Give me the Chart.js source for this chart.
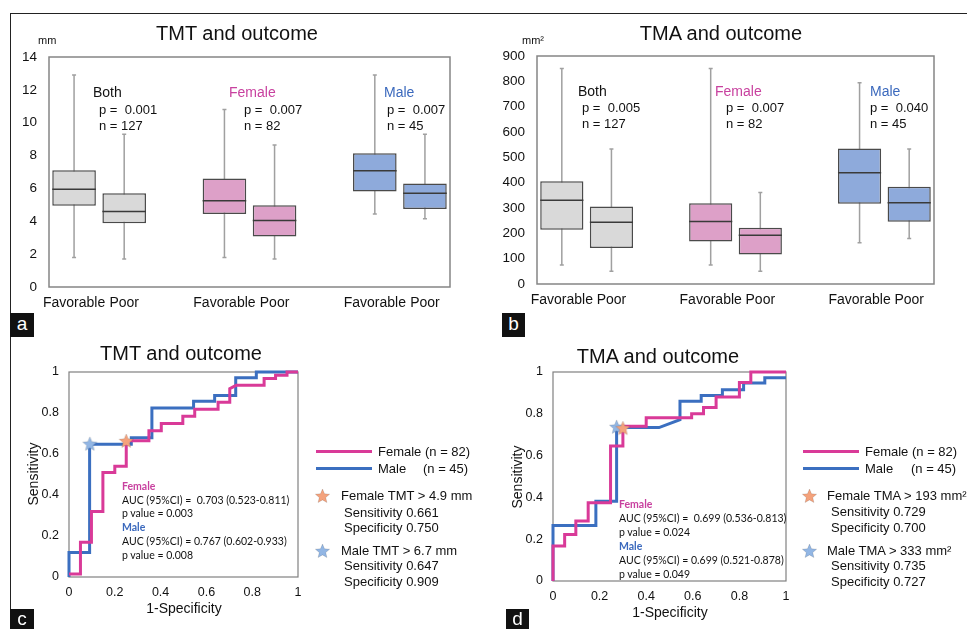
<!DOCTYPE html>
<html lang="en">
<head>
<meta charset="UTF-8">
<title>TMT / TMA and outcome</title>
<script src="https://cdn.jsdelivr.net/npm/chart.js"></script>
<style>
  body { margin:0; width:967px; height:629px; position:relative; overflow:hidden; background:#fff;
         font-family:"Liberation Sans", Arial, sans-serif; color:#111; }
  canvas { position:absolute; }
  .t { position:absolute; white-space:pre; line-height:1; }
  .c { transform:translateX(-50%); }
  .roc { font-family:Lato, "Liberation Sans", sans-serif; font-size:10.5px; }
  .tag { position:absolute; background:#111; color:#fff; font-size:19px; text-align:center; line-height:22px; }
  .pk { color:#c8419f; }
  .bl { color:#3b69bd; }
</style>
</head>
<body>

<!-- frame lines of the figure -->
<div style="position:absolute;left:10px;top:13px;width:957px;height:1px;background:#222"></div>
<div style="position:absolute;left:10px;top:13px;width:1px;height:616px;background:#222"></div>

<canvas id="cA" width="490" height="330" style="left:0;top:0"></canvas>
<canvas id="cB" width="477" height="330" style="left:490px;top:0"></canvas>
<canvas id="cC" width="490" height="299" style="left:0;top:330px"></canvas>
<canvas id="cD" width="477" height="299" style="left:490px;top:330px"></canvas>

<!-- panel a -->
<div class="t c" style="left:237px;top:23px;font-size:20px">TMT and outcome</div>
<div class="t" style="left:38px;top:35px;font-size:11px">mm</div>
<div class="t" style="left:93px;top:85px;font-size:14px">Both</div>
<div class="t" style="left:99px;top:103px;font-size:13px">p =  0.001</div>
<div class="t" style="left:99px;top:119px;font-size:13px">n = 127</div>
<div class="t pk" style="left:229px;top:85px;font-size:14px">Female</div>
<div class="t" style="left:244px;top:103px;font-size:13px">p =  0.007</div>
<div class="t" style="left:244px;top:119px;font-size:13px">n = 82</div>
<div class="t bl" style="left:384px;top:85px;font-size:14px">Male</div>
<div class="t" style="left:387px;top:103px;font-size:13px">p =  0.007</div>
<div class="t" style="left:387px;top:119px;font-size:13px">n = 45</div>
<div class="tag" style="left:10px;top:313px;width:24px;height:24px">a</div>

<!-- panel b -->
<div class="t c" style="left:721px;top:23px;font-size:20px">TMA and outcome</div>
<div class="t" style="left:522px;top:35px;font-size:11px">mm²</div>
<div class="t" style="left:578px;top:84px;font-size:14px">Both</div>
<div class="t" style="left:582px;top:101px;font-size:13px">p =  0.005</div>
<div class="t" style="left:582px;top:117px;font-size:13px">n = 127</div>
<div class="t pk" style="left:715px;top:84px;font-size:14px">Female</div>
<div class="t" style="left:726px;top:101px;font-size:13px">p =  0.007</div>
<div class="t" style="left:726px;top:117px;font-size:13px">n = 82</div>
<div class="t bl" style="left:870px;top:84px;font-size:14px">Male</div>
<div class="t" style="left:870px;top:101px;font-size:13px">p =  0.040</div>
<div class="t" style="left:870px;top:117px;font-size:13px">n = 45</div>
<div class="tag" style="left:502px;top:313px;width:23px;height:24px">b</div>

<!-- panel c -->
<div class="t c" style="left:181px;top:343px;font-size:20px">TMT and outcome</div>
<div class="t" style="left:33px;top:474px;font-size:14px;transform:translate(-50%,-50%) rotate(-90deg)">Sensitivity</div>
<div class="t c" style="left:184px;top:601px;font-size:14px">1-Specificity</div>
<div class="t roc pk" style="left:122px;top:481px;font-weight:bold">Female</div>
<div class="t roc" style="left:122px;top:495px">AUC (95%CI) =  0.703 (0.523-0.811)</div>
<div class="t roc" style="left:122px;top:508px">p value = 0.003</div>
<div class="t roc bl" style="left:122px;top:522px;font-weight:bold">Male</div>
<div class="t roc" style="left:122px;top:536px">AUC (95%CI) = 0.767 (0.602-0.933)</div>
<div class="t roc" style="left:122px;top:550px">p value = 0.008</div>
<div style="position:absolute;left:316px;top:450px;width:56px;height:3px;background:#d93a98"></div>
<div style="position:absolute;left:316px;top:467px;width:56px;height:3px;background:#3b6fc0"></div>
<div class="t" style="left:378px;top:445px;font-size:13px">Female (n = 82)</div>
<div class="t" style="left:378px;top:462px;font-size:13px">Male</div>
<div class="t" style="left:423px;top:462px;font-size:13px">(n = 45)</div>
<div class="t" style="left:341px;top:489px;font-size:13px">Female TMT &gt; 4.9 mm</div>
<div class="t" style="left:344px;top:506px;font-size:13px">Sensitivity 0.661</div>
<div class="t" style="left:344px;top:521px;font-size:13px">Specificity 0.750</div>
<div class="t" style="left:341px;top:544px;font-size:13px">Male TMT &gt; 6.7 mm</div>
<div class="t" style="left:344px;top:559px;font-size:13px">Sensitivity 0.647</div>
<div class="t" style="left:344px;top:575px;font-size:13px">Specificity 0.909</div>
<div class="tag" style="left:10px;top:609px;width:24px;height:20px;line-height:20px">c</div>

<!-- panel d -->
<div class="t c" style="left:658px;top:346px;font-size:20px">TMA and outcome</div>
<div class="t" style="left:517px;top:477px;font-size:14px;transform:translate(-50%,-50%) rotate(-90deg)">Sensitivity</div>
<div class="t c" style="left:670px;top:605px;font-size:14px">1-Specificity</div>
<div class="t roc pk" style="left:619px;top:499px;font-weight:bold">Female</div>
<div class="t roc" style="left:619px;top:513px">AUC (95%CI) =  0.699 (0.536-0.813)</div>
<div class="t roc" style="left:619px;top:527px">p value = 0.024</div>
<div class="t roc bl" style="left:619px;top:541px;font-weight:bold">Male</div>
<div class="t roc" style="left:619px;top:555px">AUC (95%CI) = 0.699 (0.521-0.878)</div>
<div class="t roc" style="left:619px;top:569px">p value = 0.049</div>
<div style="position:absolute;left:803px;top:450px;width:56px;height:3px;background:#d93a98"></div>
<div style="position:absolute;left:803px;top:467px;width:56px;height:3px;background:#3b6fc0"></div>
<div class="t" style="left:865px;top:445px;font-size:13px">Female (n = 82)</div>
<div class="t" style="left:865px;top:462px;font-size:13px">Male</div>
<div class="t" style="left:911px;top:462px;font-size:13px">(n = 45)</div>
<div class="t" style="left:827px;top:489px;font-size:13px">Female TMA &gt; 193 mm²</div>
<div class="t" style="left:831px;top:505px;font-size:13px">Sensitivity 0.729</div>
<div class="t" style="left:831px;top:521px;font-size:13px">Specificity 0.700</div>
<div class="t" style="left:827px;top:544px;font-size:13px">Male TMA &gt; 333 mm²</div>
<div class="t" style="left:831px;top:559px;font-size:13px">Sensitivity 0.735</div>
<div class="t" style="left:831px;top:575px;font-size:13px">Specificity 0.727</div>
<div class="tag" style="left:506px;top:609px;width:23px;height:20px;line-height:20px">d</div>

<script>
// ---- box plot data (a: TMT in mm, b: TMA in mm2) ----
// order: Both fav/poor, gap, Female fav/poor, gap, Male fav/poor
const groupLabels = ['Favorable', 'Poor', '', 'Favorable', 'Poor', '', 'Favorable', 'Poor'];

const tmtMin = [1.8, 1.7, null, 1.8, 1.7, null, 4.45, 4.15];
const tmtQ1  = [4.95, 3.88, null, 4.45, 3.08, null, 5.82, 4.75];
const tmtMed = [5.95, 4.6, null, 5.25, 4.05, null, 7.08, 5.7];
const tmtQ3  = [7.1, 5.7, null, 6.6, 4.97, null, 8.14, 6.3];
const tmtMax = [12.9, 9.3, null, 10.8, 8.65, null, 12.9, 9.3];

const tmaMin = [75, 50, null, 75, 50, null, 163, 180];
const tmaQ1  = [214, 142, null, 168, 116, null, 317, 246];
const tmaMed = [331, 244, null, 247, 192, null, 439, 321];
const tmaQ3  = [406, 306, null, 319, 222, null, 535, 384];
const tmaMax = [851, 533, null, 851, 361, null, 794, 533];

const boxFill = ['#d9d9d9', '#d9d9d9', null, '#dda0c8', '#dda0c8', null, '#8eaadb', '#8eaadb'];

// ---- ROC curves (x = 1-specificity, y = sensitivity) ----
const tmtFemaleFpr = [0, 0.05, 0.05, 0.098, 0.098, 0.148, 0.148, 0.2, 0.2, 0.25, 0.25, 0.349, 0.349, 0.403, 0.403, 0.497, 0.497, 0.549, 0.549, 0.651, 0.651, 0.702, 0.702, 0.73, 0.852, 0.852, 0.902, 0.902, 0.952, 0.952, 1];
const tmtFemaleTpr = [0.015, 0.015, 0.17, 0.17, 0.32, 0.32, 0.51, 0.51, 0.54, 0.54, 0.665, 0.665, 0.713, 0.713, 0.749, 0.749, 0.784, 0.784, 0.818, 0.818, 0.852, 0.852, 0.919, 0.935, 0.935, 0.968, 0.968, 0.984, 0.984, 1, 1];
const tmtMaleFpr = [0, 0, 0.09, 0.09, 0.272, 0.272, 0.362, 0.362, 0.544, 0.544, 0.636, 0.636, 0.728, 0.728, 0.818, 0.818, 1];
const tmtMaleTpr = [0, 0.12, 0.12, 0.647, 0.647, 0.679, 0.679, 0.825, 0.825, 0.857, 0.857, 0.885, 0.885, 0.972, 0.972, 1, 1];

const tmaFemaleFpr = [0, 0, 0.05, 0.05, 0.098, 0.098, 0.151, 0.151, 0.247, 0.247, 0.3, 0.3, 0.4, 0.4, 0.595, 0.595, 0.646, 0.646, 0.7, 0.7, 0.8, 0.8, 0.849, 0.849, 1];
const tmaFemaleTpr = [0, 0.167, 0.167, 0.222, 0.222, 0.287, 0.287, 0.375, 0.375, 0.646, 0.646, 0.74, 0.74, 0.781, 0.781, 0.8, 0.8, 0.83, 0.83, 0.88, 0.88, 0.95, 0.95, 1, 1];
const tmaMaleFpr = [0, 0, 0.184, 0.184, 0.273, 0.273, 0.455, 0.545, 0.545, 0.636, 0.636, 0.727, 0.727, 0.818, 0.818, 0.909, 0.909, 1];
const tmaMaleTpr = [0, 0.266, 0.266, 0.381, 0.381, 0.734, 0.734, 0.772, 0.86, 0.86, 0.888, 0.888, 0.915, 0.915, 0.947, 0.947, 0.973, 0.973];

// cut-off points [1-specificity, sensitivity]
const tmtFemaleCut = [0.25, 0.661];
const tmtMaleCut = [0.091, 0.647];
const tmaFemaleCut = [0.30, 0.729];
const tmaMaleCut = [0.273, 0.735];

const PINK = '#d93a98', BLUE = '#3b6fc0';
const STAR_ORANGE = '#f4a27c', STAR_BLUE = '#92b6e4';

Chart.defaults.font.family = '"Liberation Sans", Arial, sans-serif';
Chart.defaults.color = '#111';

function starImage(fill, r) {
  const c = document.createElement('canvas');
  const s = Math.ceil(r * 2 + 2);
  c.width = s; c.height = s;
  const g = c.getContext('2d');
  g.beginPath();
  for (let k = 0; k < 10; k++) {
    const rad = k % 2 ? r * 0.45 : r;
    const a = -Math.PI / 2 + k * Math.PI / 5;
    g.lineTo(s / 2 + rad * Math.cos(a), s / 2 + rad * Math.sin(a));
  }
  g.closePath();
  g.fillStyle = fill; g.fill();
  g.strokeStyle = 'rgba(0,0,0,0.15)'; g.lineWidth = 0.8; g.stroke();
  return c;
}

// border round the plot area
function frame(color, w) {
  return {
    id: 'frame',
    beforeDatasetsDraw(chart) {
      const a = chart.chartArea, ctx = chart.ctx;
      ctx.save();
      ctx.strokeStyle = color; ctx.lineWidth = w;
      ctx.strokeRect(a.left, a.top, a.right - a.left, a.bottom - a.top);
      ctx.restore();
    }
  };
}

// whiskers behind the boxes, medians on top
function boxDecor(mins, meds, maxs) {
  return {
    id: 'boxDecor',
    beforeDatasetsDraw(chart) {
      const {ctx, scales: {x, y}} = chart;
      ctx.save();
      ctx.strokeStyle = '#a0a0a0'; ctx.lineWidth = 1.5;
      mins.forEach((lo, i) => {
        if (lo == null) return;
        const px = x.getPixelForValue(i);
        const y1 = y.getPixelForValue(lo), y2 = y.getPixelForValue(maxs[i]);
        ctx.beginPath();
        ctx.moveTo(px, y1); ctx.lineTo(px, y2);
        ctx.moveTo(px - 2, y1); ctx.lineTo(px + 2, y1);
        ctx.moveTo(px - 2, y2); ctx.lineTo(px + 2, y2);
        ctx.stroke();
      });
      ctx.restore();
    },
    afterDatasetsDraw(chart) {
      const {ctx, scales: {y}} = chart;
      const bars = chart.getDatasetMeta(0).data;
      ctx.save();
      ctx.strokeStyle = '#3a3a3a'; ctx.lineWidth = 1.5;
      meds.forEach((m, i) => {
        if (m == null) return;
        const b = bars[i], py = y.getPixelForValue(m);
        ctx.beginPath();
        ctx.moveTo(b.x - b.width / 2, py); ctx.lineTo(b.x + b.width / 2, py);
        ctx.stroke();
      });
      ctx.restore();
    }
  };
}

function boxChart(id, q1, q3, mins, meds, maxs, yMax, yStep, pad, yWidth, xHeight) {
  return new Chart(document.getElementById(id), {
    type: 'bar',
    data: {
      labels: groupLabels,
      datasets: [{
        data: q1.map((v, i) => v == null ? null : [v, q3[i]]),
        backgroundColor: boxFill,
        borderColor: '#4a4a4a',
        borderWidth: 1.5,
        borderSkipped: false,
        barPercentage: 0.87,
        categoryPercentage: 1
      }]
    },
    options: {
      responsive: false,
      animation: false,
      layout: { padding: pad },
      plugins: { legend: { display: false }, tooltip: { enabled: false } },
      scales: {
        x: {
          grid: { display: false, drawTicks: false },
          border: { display: false },
          ticks: { padding: 8, font: { size: 14 }, maxRotation: 0, autoSkip: false },
          afterFit: s => { s.height = xHeight; }
        },
        y: {
          min: 0, max: yMax,
          grid: { display: false, drawTicks: false },
          border: { display: false },
          ticks: { stepSize: yStep, padding: 12, font: { size: 13.5 } },
          afterFit: s => { s.width = yWidth; }
        }
      }
    },
    plugins: [frame('#858585', 1.5), boxDecor(mins, meds, maxs)]
  });
}

boxChart('cA', tmtQ1, tmtQ3, tmtMin, tmtMed, tmtMax, 14, 2,
  { top: 57, right: 40, left: 0, bottom: 0 }, 49, 43);
boxChart('cB', tmaQ1, tmaQ3, tmaMin, tmaMed, tmaMax, 900, 100,
  { top: 56, right: 33, left: 0, bottom: 0 }, 47, 46);

function pts(xs, ys) { return xs.map((v, i) => ({ x: v, y: ys[i] })); }

// 0, 0.2 ... 0.8, 1 (no trailing ".0")
const rocTick = v => String(Math.round(v * 10) / 10);

function rocChart(id, fFpr, fTpr, mFpr, mTpr, fCut, mCut, pad, yWidth, xHeight) {
  const curve = (data, color) => ({
    data, showLine: true, borderColor: color, borderWidth: 3,
    pointRadius: 0, tension: 0, clip: false
  });
  const star = (cut, color) => ({
    data: [{ x: cut[0], y: cut[1] }], showLine: false,
    pointStyle: starImage(color, 7.5), pointRadius: 7, clip: false
  });
  return new Chart(document.getElementById(id), {
    type: 'scatter',
    data: {
      datasets: [
        star(fCut, STAR_ORANGE),
        star(mCut, STAR_BLUE),
        curve(pts(fFpr, fTpr), PINK),
        curve(pts(mFpr, mTpr), BLUE)
      ]
    },
    options: {
      responsive: false,
      animation: false,
      layout: { padding: pad },
      plugins: { legend: { display: false }, tooltip: { enabled: false } },
      scales: {
        x: {
          type: 'linear', min: 0, max: 1,
          grid: { display: false, drawTicks: false },
          border: { display: false },
          ticks: { stepSize: 0.2, padding: 8, font: { size: 12.5 }, callback: rocTick },
          afterFit: s => { s.height = xHeight; }
        },
        y: {
          min: 0, max: 1,
          grid: { display: false, drawTicks: false },
          border: { display: false },
          ticks: { stepSize: 0.2, padding: 10, font: { size: 12.5 }, callback: rocTick },
          afterFit: s => { s.width = yWidth; }
        }
      }
    },
    plugins: [frame('#808080', 1.2)]
  });
}

rocChart('cC', tmtFemaleFpr, tmtFemaleTpr, tmtMaleFpr, tmtMaleTpr, tmtFemaleCut, tmtMaleCut,
  { top: 42, right: 192, left: 0, bottom: 0 }, 69, 52);
rocChart('cD', tmaFemaleFpr, tmaFemaleTpr, tmaMaleFpr, tmaMaleTpr, tmaFemaleCut, tmaMaleCut,
  { top: 42, right: 181, left: 0, bottom: 0 }, 63, 48);

// legend stars next to the cut-off texts
[[322, 496, STAR_ORANGE], [322, 551, STAR_BLUE], [809, 496, STAR_ORANGE], [809, 551, STAR_BLUE]]
  .forEach(([cx, cy, col]) => {
    const c = starImage(col, 7.5);
    c.style.left = (cx - c.width / 2) + 'px';
    c.style.top = (cy - c.height / 2) + 'px';
    document.body.appendChild(c);
  });
</script>
</body>
</html>
